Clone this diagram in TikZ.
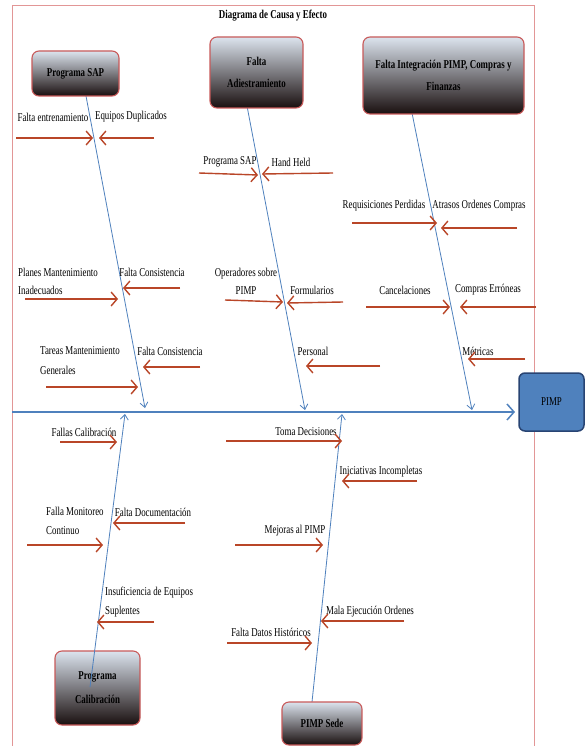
\documentclass[tikz,border=0pt]{standalone}
\usepackage{fontspec}
\setmainfont{Liberation Serif}[FakeStretch=0.74]
\usetikzlibrary{arrows.meta}
\definecolor{spinecol}{RGB}{79,129,189}
\definecolor{causecol}{RGB}{185,70,40}
\definecolor{framecol}{RGB}{226,150,150}
\definecolor{boxtop}{RGB}{220,228,238}
\definecolor{boxbot}{RGB}{25,15,15}
\definecolor{boxedge}{RGB}{200,90,90}
\definecolor{pimpfill}{RGB}{79,129,189}
\definecolor{pimpedge}{RGB}{40,68,115}
\tikzset{
  catbox/.style={draw=boxedge, line width=1.1pt, rounded corners=7pt, top color=boxtop, bottom color=boxbot, align=center, inner sep=0pt},
  bone/.style={draw=spinecol, line width=0.8pt, -{Straight Barb[length=5pt,width=8pt]}},
  mainbone/.style={draw=spinecol, line width=1.5pt, -{Straight Barb[length=7pt,width=16pt]}},
  causearrow/.style={draw=causecol, line width=1.4pt, -{Straight Barb[length=6pt,width=14pt]}},
  lbl/.style={font=\fontsize{12}{14}\selectfont, inner sep=0pt},
  lbltwo/.style={font=\fontsize{12}{18}\selectfont, inner sep=0pt, align=left, anchor=west},
}
\begin{document}
\begin{tikzpicture}[x=1pt,y=-1pt]
\useasboundingbox (0,0) rectangle (585,746);
\fill[white] (0,0) rectangle (585,746);
% frame
\draw[framecol, line width=0.7pt] (12,5) rectangle (534,760);
\node[font=\bfseries\fontsize{12}{14}\selectfont, inner sep=0pt] (title) at (273,16) {Diagrama de Causa y Efecto};

% spine coordinates
\coordinate (sapS) at (86,96);   \coordinate (sapE) at (145,408);
\coordinate (adiS) at (247,106); \coordinate (adiE) at (305,410);
\coordinate (intS) at (412,113); \coordinate (intE) at (472,410);
\coordinate (mainS) at (12,412); \coordinate (mainE) at (515,412);
\coordinate (calS) at (90,687);  \coordinate (calE) at (125,414);
\coordinate (sedS) at (312,702); \coordinate (sedE) at (342,414);

\draw[bone] (sapS) -- (sapE);
\draw[bone] (adiS) -- (adiE);
\draw[bone] (intS) -- (intE);
\draw[bone] (sedS) -- (sedE);
\draw[mainbone] (mainS) -- (mainE);

% category boxes
\node[catbox, minimum width=87pt, minimum height=45pt, font=\bfseries\fontsize{12}{14}\selectfont] (sap) at (75.5,73.5) {Programa SAP};
\node[catbox, minimum width=93pt, minimum height=71pt, font=\bfseries\fontsize{12}{22}\selectfont] (adi) at (256.5,72.5) {Falta\\Adiestramiento};
\node[catbox, minimum width=161pt, minimum height=77pt, font=\bfseries\fontsize{12}{22}\selectfont] (int) at (443.5,75.5) {Falta Integración PIMP, Compras y\\Finanzas};
\node[catbox, minimum width=85pt, minimum height=74pt, font=\bfseries\fontsize{12}{24}\selectfont] (cal) at (97.5,688) {Programa\\Calibración};
\node[catbox, minimum width=80pt, minimum height=43pt, font=\bfseries\fontsize{12}{14}\selectfont] (sed) at (322,723.5) {PIMP Sede};
\node[draw=pimpedge, fill=pimpfill, line width=1.5pt, rounded corners=6pt, minimum width=65pt, minimum height=58pt, inner sep=0pt, font=\fontsize{12}{14}\selectfont] (pimp) at (551.5,402) {PIMP};
\draw[bone] (calS) -- (calE);

% --- Programa SAP branch
\node[lbl] (lfe) at (53,117) {Falta entrenamiento};
\coordinate (afeS) at (16,138); \coordinate (afeE) at (93,138);
\draw[causearrow] (afeS) -- (afeE);
\node[lbl] (led) at (131,117) {Equipos Duplicados};
\coordinate (aedS) at (154,138); \coordinate (aedE) at (99,138);
\draw[causearrow] (aedS) -- (aedE);
\node[lbltwo] (lpmi) at (18,281) {Planes Mantenimiento\\Inadecuados};
\coordinate (apmiS) at (25,299); \coordinate (apmiE) at (118,299);
\draw[causearrow] (apmiS) -- (apmiE);
\node[lbl] (lfc1) at (152,272) {Falta Consistencia};
\coordinate (afc1S) at (180,288); \coordinate (afc1E) at (123,288);
\draw[causearrow] (afc1S) -- (afc1E);
\node[lbltwo, font=\fontsize{12}{20}\selectfont] (ltmg) at (40,361) {Tareas Mantenimiento\\Generales};
\coordinate (atmgS) at (46,387); \coordinate (atmgE) at (138,387);
\draw[causearrow] (atmgS) -- (atmgE);
\node[lbl] (lfc2) at (170,351) {Falta Consistencia};
\coordinate (afc2S) at (200,367); \coordinate (afc2E) at (143,367);
\draw[causearrow] (afc2S) -- (afc2E);

% --- Falta Adiestramiento branch
\node[lbl] (lps) at (230,162) {Programa SAP};
\coordinate (apsS) at (199,173); \coordinate (apsE) at (258,175);
\draw[causearrow] (apsS) -- (apsE);
\node[lbl] (lhh) at (291,162) {Hand Held};
\coordinate (ahhS) at (333,173); \coordinate (ahhE) at (262,174);
\draw[causearrow] (ahhS) -- (ahhE);
\node[lbl, align=center, font=\fontsize{12}{18}\selectfont] (lop) at (246,281) {Operadores sobre\\PIMP};
\coordinate (aopS) at (225,300); \coordinate (aopE) at (283,302);
\draw[causearrow] (aopS) -- (aopE);
\node[lbl] (lfo) at (312,290) {Formularios};
\coordinate (afoS) at (343,302); \coordinate (afoE) at (287,303);
\draw[causearrow] (afoS) -- (afoE);
\node[lbl] (lpe) at (313,351) {Personal};
\coordinate (apeS) at (380,366); \coordinate (apeE) at (306,366);
\draw[causearrow] (apeS) -- (apeE);

% --- Falta Integracion branch
\node[lbl] (lrp) at (384,206) {Requisiciones Perdidas};
\coordinate (arpS) at (352,223); \coordinate (arpE) at (437,223);
\draw[causearrow] (arpS) -- (arpE);
\node[lbl] (lao) at (479,206) {Atrasos Ordenes Compras};
\coordinate (aaoS) at (517,228); \coordinate (aaoE) at (441,228);
\draw[causearrow] (aaoS) -- (aaoE);
\node[lbl] (lca) at (405,290) {Cancelaciones};
\coordinate (acaS) at (366,307); \coordinate (acaE) at (450,307);
\draw[causearrow] (acaS) -- (acaE);
\node[lbl] (lce) at (488,290) {Compras Erróneas};
\coordinate (aceS) at (536,307); \coordinate (aceE) at (460,307);
\draw[causearrow] (aceS) -- (aceE);
\node[lbl] (lme) at (478,351) {Métricas};
\coordinate (ameS) at (525,359); \coordinate (ameE) at (468,359);
\draw[causearrow] (ameS) -- (ameE);

% --- Programa Calibracion branch
\node[lbl] (lfca) at (84,432) {Fallas Calibración};
\coordinate (afcaS) at (60,442); \coordinate (afcaE) at (117,442);
\draw[causearrow] (afcaS) -- (afcaE);
\node[lbltwo, font=\fontsize{12}{19}\selectfont] (lfmc) at (46,521) {Falla Monitoreo\\Continuo};
\coordinate (afmcS) at (27,545); \coordinate (afmcE) at (103,545);
\draw[causearrow] (afmcS) -- (afmcE);
\node[lbl] (lfd) at (153,512) {Falta Documentación};
\coordinate (afdS) at (185,523); \coordinate (afdE) at (113,523);
\draw[causearrow] (afdS) -- (afdE);
\node[lbltwo, font=\fontsize{12}{19}\selectfont] (lies) at (105,602) {Insuficiencia de Equipos\\Suplentes};
\coordinate (aiesS) at (154,622); \coordinate (aiesE) at (97,622);
\draw[causearrow] (aiesS) -- (aiesE);

% --- PIMP Sede branch
\node[lbl] (ltd) at (306,432) {Toma Decisiones};
\coordinate (atdS) at (226,441); \coordinate (atdE) at (342,441);
\draw[causearrow] (atdS) -- (atdE);
\node[lbl] (lii) at (381,472) {Iniciativas Incompletas};
\coordinate (aiiS) at (417,481); \coordinate (aiiE) at (342,481);
\draw[causearrow] (aiiS) -- (aiiE);
\node[lbl] (lmp) at (295,531) {Mejoras al PIMP};
\coordinate (ampS) at (235,545); \coordinate (ampE) at (323,545);
\draw[causearrow] (ampS) -- (ampE);
\node[lbl] (lmeo) at (370,612) {Mala Ejecución Ordenes};
\coordinate (ameoS) at (404,621); \coordinate (ameoE) at (321,621);
\draw[causearrow] (ameoS) -- (ameoE);
\node[lbl] (lfdh) at (271,632) {Falta Datos Históricos};
\coordinate (afdhS) at (227,643); \coordinate (afdhE) at (312,643);
\draw[causearrow] (afdhS) -- (afdhE);
\end{tikzpicture}
\end{document}
